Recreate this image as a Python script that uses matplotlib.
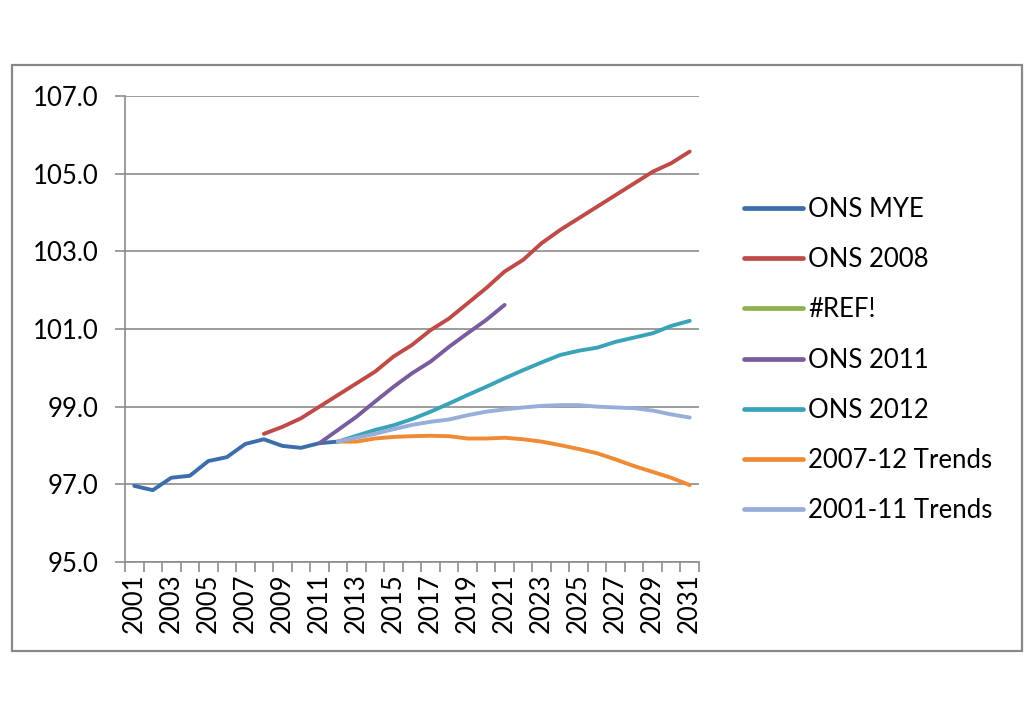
import numpy as np
import matplotlib
matplotlib.use("Agg")
import matplotlib.pyplot as plt
from matplotlib.patches import Rectangle

plt.rcParams['font.family'] = ['Lato', 'DejaVu Sans']

years = list(range(2001, 2032))

ons_mye = [96.96, 96.85, 97.17, 97.22, 97.60, 97.70, 98.04, 98.16, 97.99, 97.94, 98.06, 98.10]
ons_2008_start = 2008
ons_2008 = [98.30, 98.48, 98.70, 99.00, 99.30, 99.60, 99.90, 100.29, 100.59, 100.97, 101.27,
            101.66, 102.05, 102.48, 102.78, 103.21, 103.55, 103.85, 104.15, 104.45, 104.75,
            105.05, 105.27, 105.57]
ref_series = []
ons_2011_start = 2011
ons_2011 = [98.06, 98.40, 98.74, 99.13, 99.51, 99.86, 100.16, 100.54, 100.89, 101.23, 101.62]
ons_2012_start = 2012
ons_2012 = [98.10, 98.25, 98.40, 98.52, 98.68, 98.87, 99.08, 99.30, 99.51, 99.73, 99.94,
            100.14, 100.33, 100.44, 100.52, 100.67, 100.78, 100.89, 101.08, 101.21]
trend_0712_start = 2012
trend_0712 = [98.10, 98.10, 98.18, 98.22, 98.24, 98.25, 98.24, 98.18, 98.18, 98.20, 98.16,
              98.10, 98.01, 97.91, 97.80, 97.64, 97.47, 97.32, 97.17, 96.98]
trend_0111_start = 2012
trend_0111 = [98.10, 98.20, 98.30, 98.42, 98.53, 98.61, 98.67, 98.78, 98.87, 98.93, 98.98,
              99.02, 99.04, 99.04, 99.00, 98.98, 98.96, 98.90, 98.80, 98.72]

series = [
    ("ONS MYE", 2001, ons_mye, "#3C6EAC"),
    ("ONS 2008", ons_2008_start, ons_2008, "#BE4B48"),
    ("#REF!", 2001, ref_series, "#8FB04E"),
    ("ONS 2011", ons_2011_start, ons_2011, "#7A5C9E"),
    ("ONS 2012", ons_2012_start, ons_2012, "#3AA3B8"),
    ("2007-12 Trends", trend_0712_start, trend_0712, "#F08A34"),
    ("2001-11 Trends", trend_0111_start, trend_0111, "#97AED8"),
]

W, H = 1024, 709
fig = plt.figure(figsize=(W / 100, H / 100), dpi=100)
ax = fig.add_axes([125 / W, 1 - 562 / H, (699 - 125) / W, (562 - 96) / H])

for name, start, vals, col in series:
    xs = [years.index(start) + i for i in range(len(vals))]
    ax.plot(xs, vals, color=col, lw=2.8, label=name, solid_capstyle='round',
            solid_joinstyle='round')

ax.set_xlim(-0.5, len(years) - 0.5)
ax.set_ylim(95, 107)
yt = [95, 97, 99, 101, 103, 105, 107]
ax.set_yticks(yt)
ax.set_yticklabels([f"{v:.1f}" for v in yt], fontsize=18.5)
ax.yaxis.grid(True, color="#8C8C8C", lw=1.2)
ax.set_axisbelow(True)

ax.set_xticks(np.arange(-0.5, len(years), 1.0))
ax.set_xticklabels([])
ax.set_xticks(range(0, len(years), 2), minor=True)
ax.set_xticklabels([str(y) for y in years[::2]], minor=True, rotation=90, fontsize=18.5)
ax.tick_params(axis='x', which='major', length=7, color="#8C8C8C", width=1.2)
ax.tick_params(axis='x', which='minor', length=0, pad=8)
ax.tick_params(axis='y', length=7, color="#8C8C8C", width=1.2, pad=12)

for s in ['top', 'right']:
    ax.spines[s].set_visible(False)
for s in ['left', 'bottom']:
    ax.spines[s].set_color("#8C8C8C")
    ax.spines[s].set_linewidth(1.2)

leg = fig.legend(loc='upper left', bbox_to_anchor=(744 / W, 1 - 197 / H), frameon=False,
                 fontsize=18.5, handlelength=2.3, handletextpad=0.2, labelspacing=0.98,
                 borderaxespad=0, borderpad=0)
for l in leg.get_lines():
    l.set_linewidth(3.4)

fig.patches.append(Rectangle((12 / W, 1 - 651 / H), (1022 - 12) / W, (651 - 65) / H,
                             transform=fig.transFigure, fill=False, edgecolor="#888888", lw=1.6))

fig.savefig("out.png", dpi=100)
